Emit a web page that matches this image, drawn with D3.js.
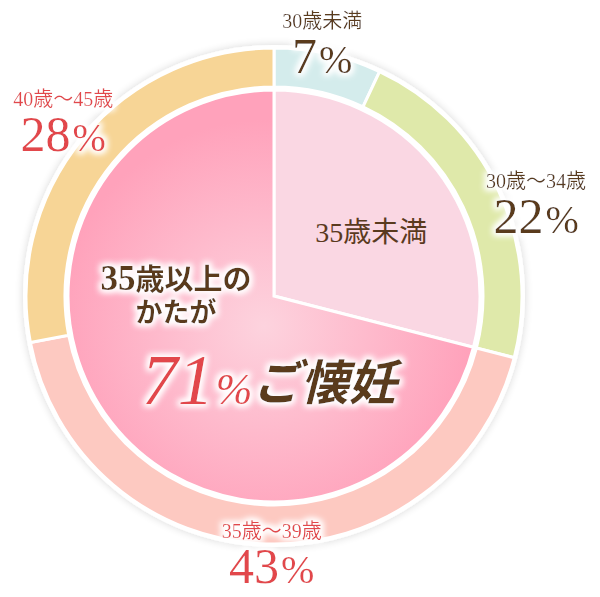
<!DOCTYPE html>
<html>
<head>
<meta charset="utf-8">
<script src="https://cdn.jsdelivr.net/npm/d3@7"></script>
<style>
  body { margin: 0; background: #fff; }
  svg { display: block; }
  text { font-family: "Liberation Serif", "DejaVu Serif", "Noto Sans CJK JP", serif; }
</style>
</head>
<body>
<div id="chart"></div>
<script>
// outer ring: age groups
const ageLabels = ["30歳未満", "30歳～34歳", "35歳～39歳", "40歳～45歳"];
const ageValues = [7, 22, 43, 28];
// inner pie: under / over 35
const innerLabels = ["35歳未満", "35歳以上"];
const innerValues = [29, 71];

const width = 600, height = 597;
const cx = 274, cy = 296;
const outerR = 248, ringInner = 209, pieR = 206;

const ringColors = ["#d4ecec", "#dfe9aa", "#fdc9c1", "#f7d596"];
const labelColors = ["#5a3a1e", "#5a3a1e", "#e2474b", "#e2474b"];
// small nudges so each label block sits where the reference has it
const labelNudge = [[-9, 10], [25, 26], [6, 2], [-9, -1]];

const svg = d3.select("#chart").append("svg")
    .attr("width", width)
    .attr("height", height);

const defs = svg.append("defs");

const shadow = defs.append("filter").attr("id", "ringShadow")
    .attr("x", "-10%").attr("y", "-10%").attr("width", "120%").attr("height", "120%");
shadow.append("feGaussianBlur").attr("in", "SourceAlpha").attr("stdDeviation", 4).attr("result", "b");
shadow.append("feComponentTransfer").attr("in", "b").attr("result", "s")
    .append("feFuncA").attr("type", "linear").attr("slope", 0.16);
const sm = shadow.append("feMerge");
sm.append("feMergeNode").attr("in", "s");
sm.append("feMergeNode").attr("in", "SourceGraphic");

const glow = defs.append("filter").attr("id", "glow")
    .attr("x", "-20%").attr("y", "-40%").attr("width", "140%").attr("height", "180%");
glow.append("feMorphology").attr("in", "SourceAlpha").attr("operator", "dilate").attr("radius", 2).attr("result", "d");
glow.append("feGaussianBlur").attr("in", "d").attr("stdDeviation", 3).attr("result", "b");
glow.append("feFlood").attr("flood-color", "#ffffff").attr("flood-opacity", 0.95);
glow.append("feComposite").attr("in2", "b").attr("operator", "in").attr("result", "w");
const gm = glow.append("feMerge");
gm.append("feMergeNode").attr("in", "w");
gm.append("feMergeNode").attr("in", "w");
gm.append("feMergeNode").attr("in", "SourceGraphic");

const grad = defs.append("radialGradient").attr("id", "pinkGrad")
    .attr("gradientUnits", "userSpaceOnUse")
    .attr("cx", -10).attr("cy", 30).attr("r", pieR);
grad.append("stop").attr("offset", "0%").attr("stop-color", "#fdd3de");
grad.append("stop").attr("offset", "100%").attr("stop-color", "#ffa2bb");

const g = svg.append("g").attr("transform", `translate(${cx},${cy})`);

// white backing disc with soft grey shadow
g.append("circle")
    .attr("r", outerR + 3)
    .attr("fill", "#fff")
    .attr("filter", "url(#ringShadow)");

const pie = d3.pie().sort(null).value(d => d);

const ringArc = d3.arc().innerRadius(ringInner).outerRadius(outerR);
g.selectAll(".ring")
    .data(pie(ageValues))
    .enter().append("path")
    .attr("class", "ring")
    .attr("d", ringArc)
    .attr("fill", (d, i) => ringColors[i])
    .attr("stroke", "#fff")
    .attr("stroke-width", 3);

const innerArc = d3.arc().innerRadius(0).outerRadius(pieR);
g.selectAll(".inner")
    .data(pie(innerValues))
    .enter().append("path")
    .attr("class", "inner")
    .attr("d", innerArc)
    .attr("fill", (d, i) => i === 0 ? "#fad7e3" : "url(#pinkGrad)")
    .attr("stroke", "#fff")
    .attr("stroke-width", 3)
    .attr("stroke-linejoin", "miter");

// outer labels
const labelArc = d3.arc().innerRadius(262).outerRadius(262);
const labels = g.selectAll(".lab")
    .data(pie(ageValues))
    .enter().append("g")
    .attr("class", "lab")
    .attr("filter", "url(#glow)")
    .attr("transform", (d, i) => {
        const c = labelArc.centroid(d);
        return `translate(${c[0] + labelNudge[i][0]},${c[1] + labelNudge[i][1]})`;
    });

labels.append("text")
    .attr("y", -22)
    .attr("text-anchor", "middle")
    .attr("font-size", 20)
    .attr("fill", (d, i) => labelColors[i])
    .text((d, i) => ageLabels[i]);

const pct = labels.append("text")
    .attr("y", 23)
    .attr("text-anchor", "middle")
    .attr("fill", (d, i) => labelColors[i]);
pct.append("tspan").attr("font-size", 50).text(d => d.data);
pct.append("tspan").attr("font-size", 40).attr("dx", 2).text("%");

// inner "under 35" label
const innerPies = pie(innerValues);
const c0 = d3.arc().innerRadius(0).outerRadius(pieR * 0.9).centroid(innerPies[0]);
g.append("text")
    .attr("x", c0[0] + 24)
    .attr("y", c0[1] + 3)
    .attr("text-anchor", "middle")
    .attr("font-size", 28)
    .attr("fill", "#5a3a1e")
    .text(innerLabels[0]);

// main message in the big slice
const msg = g.append("g").attr("filter", "url(#glow)");
msg.append("text")
    .attr("x", -98)
    .attr("y", -6)
    .attr("text-anchor", "middle")
    .attr("font-weight", "bold")
    .attr("fill", "#5a3a1e")
    .call(t => {
        t.append("tspan").attr("font-size", 35).text("35");
        t.append("tspan").attr("font-size", 29).text("歳以上の");
    });
msg.append("text")
    .attr("x", -98)
    .attr("y", 26)
    .attr("text-anchor", "middle")
    .attr("font-weight", "bold")
    .attr("font-size", 27)
    .attr("fill", "#5a3a1e")
    .text("かたが");

const big = msg.append("text")
    .attr("x", -5)
    .attr("y", 108)
    .attr("text-anchor", "middle")
    .attr("font-style", "italic");
big.append("tspan").attr("font-size", 72).attr("fill", "#e2474b").text(innerValues[1]);
big.append("tspan").attr("font-size", 44).attr("fill", "#e2474b").attr("dx", 2).text("%");
big.append("tspan").attr("font-size", 48).attr("font-weight", "bold").attr("fill", "#5a3a1e").attr("dy", -4).text("ご懐妊");
</script>
</body>
</html>
